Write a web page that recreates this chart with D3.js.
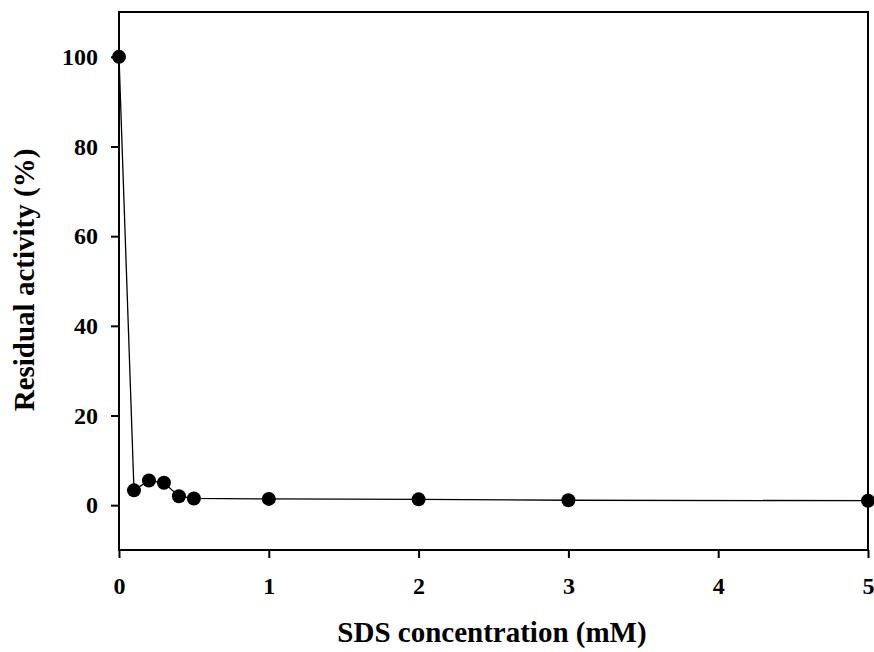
<!DOCTYPE html>
<html><head><meta charset="utf-8">
<script src="https://cdn.jsdelivr.net/npm/d3@7"></script>
<style>body{margin:0;background:#fff}</style>
</head><body>
<script>
const concentrations = [0, 0.1, 0.2, 0.3, 0.4, 0.5, 1, 2, 3, 5];
const activity = [100, 3.3, 5.5, 5.0, 2.0, 1.5, 1.4, 1.3, 1.1, 1.0];
const xTicks = [0, 1, 2, 3, 4, 5];
const yTicks = [0, 20, 40, 60, 80, 100];

const W = 874, H = 652;
const m = {l: 119, r: 6, t: 12, b: 102};
const svg = d3.select("body").append("svg").attr("width", W).attr("height", H);
const x = d3.scaleLinear().domain([0, 5]).range([m.l, W - m.r]);
const y = d3.scaleLinear().domain([-10, 110]).range([H - m.b, m.t]);
const font = "'Liberation Serif','Times New Roman',serif";

const gx = svg.append("g").attr("transform", `translate(0,${H - m.b})`)
  .call(d3.axisBottom(x).tickValues(xTicks).tickSize(8).tickPadding(19).tickFormat(d3.format("d")));
const gy = svg.append("g").attr("transform", `translate(${m.l},0)`)
  .call(d3.axisLeft(y).tickValues(yTicks).tickSize(8).tickPadding(13).tickFormat(d3.format("d")));
[gx, gy].forEach(g => {
  g.selectAll("text").style("font-family", font).style("font-weight", "bold").style("font-size", "24px").attr("fill", "#000");
  g.selectAll("line").attr("stroke", "#000").attr("stroke-width", 2);
  g.select(".domain").remove();
});

svg.append("rect").attr("x", m.l).attr("y", m.t).attr("width", W - m.r - m.l).attr("height", H - m.b - m.t)
  .attr("fill", "none").attr("stroke", "#000").attr("stroke-width", 2);

const line = d3.line().x((d, i) => x(concentrations[i])).y(d => y(d));
svg.append("path").datum(activity).attr("d", line).attr("fill", "none").attr("stroke", "#000").attr("stroke-width", 1.3);
svg.selectAll("circle.pt").data(activity).enter().append("circle")
  .attr("cx", (d, i) => x(concentrations[i])).attr("cy", d => y(d)).attr("r", 7).attr("fill", "#000");

svg.append("text").attr("x", 492).attr("y", 642).attr("text-anchor", "middle")
  .style("font-family", font).style("font-weight", "bold").style("font-size", "29px").text("SDS concentration (mM)");
svg.append("text").attr("transform", `translate(34,280) rotate(-90)`).attr("text-anchor", "middle")
  .style("font-family", font).style("font-weight", "bold").style("font-size", "29px").text("Residual activity (%)");
</script>
</body></html>
